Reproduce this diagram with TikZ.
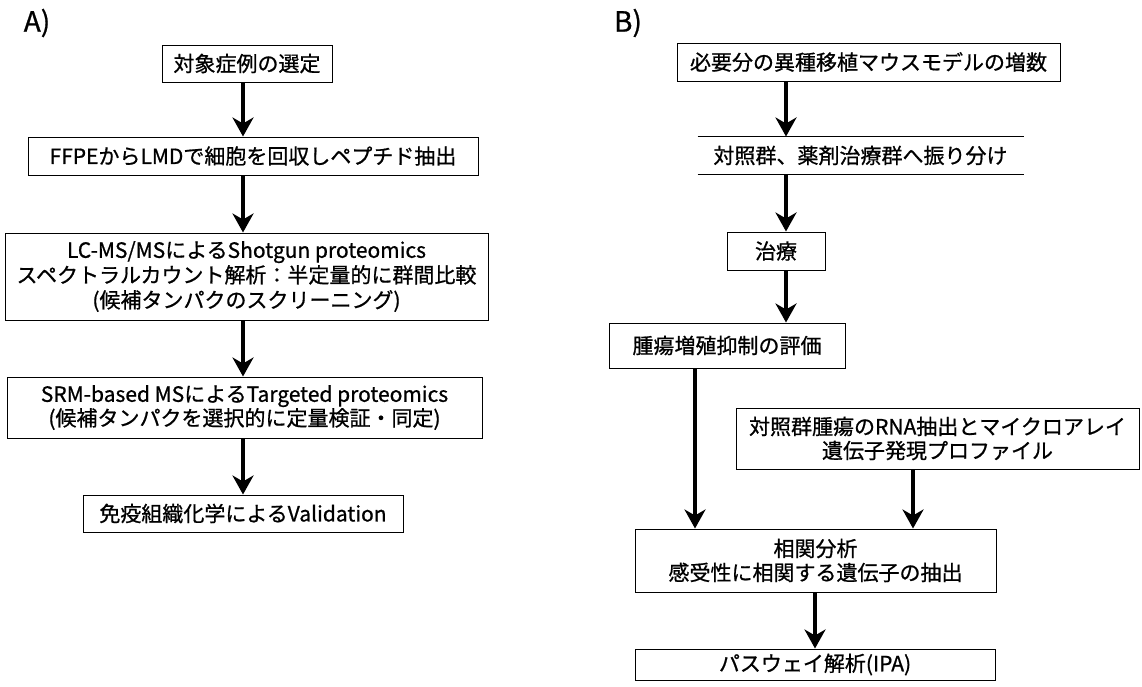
\documentclass[tikz,border=0pt]{standalone}
\usepackage{fontspec}
\setmainfont{Noto Sans CJK JP}[UprightFeatures={FakeBold=0.8}]
\usetikzlibrary{arrows.meta}
\begin{document}
\begin{tikzpicture}[x=1pt,y=-1pt,
		box/.style={draw,line width=1pt,inner sep=0pt,align=center,font=\fontsize{21}{24}\selectfont},
		flow/.style={-{Stealth[length=19pt,width=21pt,inset=6pt]},line width=4.5pt},
		panel/.style={font=\fontsize{28}{30}\selectfont}]
	\useasboundingbox (0,0) rectangle (1142,686);
	\fill[white] (0,0) rectangle (1142,686);
	% A) proteomics
	\node[panel] (pa) at (37,23) {A)};
	\node[box,minimum width=170pt,minimum height=37pt] (a1) at (247,63.5) {対象症例の選定};
	\node[box,minimum width=450pt,minimum height=38pt] (a2) at (253,156) {FFPEからLMDで細胞を回収しペプチド抽出};
	\node[box,minimum width=483pt,minimum height=87pt,font=\fontsize{21}{25}\selectfont] (a3) at (246.5,276.5) {LC-MS/MSによるShotgun proteomics\\スペクトラルカウント解析：半定量的に群間比較\\(候補タンパクのスクリーニング)};
	\node[box,minimum width=475pt,minimum height=61pt] (a4) at (244.5,407.5) {SRM-based MSによるTargeted proteomics\\(候補タンパクを選択的に定量検証・同定)};
	\node[box,minimum width=320pt,minimum height=37pt] (a5) at (243,513.5) {免疫組織化学によるValidation};
	\draw[flow] (a1.south -| a5) -- (a2.north -| a5);
	\draw[flow] (a2.south -| a5) -- (a3.north -| a5);
	\draw[flow] (a3.south -| a5) -- (a4.north -| a5);
	\draw[flow] (a4.south -| a5) -- (a5.north);
	% B) xenograft
	\node[panel] (pb) at (628,23) {B)};
	\coordinate (bcol) at (786,0);
	\coordinate (lcol) at (695,0);
	\coordinate (rcol) at (913,0);
	\node[box,minimum width=383pt,minimum height=38pt] (b1) at (868.5,62) {必要分の異種移植マウスモデルの増数};
	\node[box,draw=none,minimum width=325pt,minimum height=37pt] (b2) at (860.5,155.5) {対照群、薬剤治療群へ振り分け};
	\draw[line width=1pt] (b2.north west) -- (b2.north east) (b2.south west) -- (b2.south east);
	\node[box,minimum width=98pt,minimum height=38pt] (b3) at (776,251) {治療};
	\node[box,minimum width=236pt,minimum height=45pt] (b4) at (727,345.5) {腫瘍増殖抑制の評価};
	\node[box,minimum width=403pt,minimum height=61pt] (b5) at (937.5,438.5) {対照群腫瘍のRNA抽出とマイクロアレイ\\遺伝子発現プロファイル};
	\node[box,minimum width=361pt,minimum height=63pt] (b6) at (815.5,560.5) {相関分析\\感受性に相関する遺伝子の抽出};
	\node[box,minimum width=360pt,minimum height=31pt] (b7) at (815,664.5) {パスウェイ解析(IPA)};
	\draw[flow] (b1.south -| bcol) -- (b2.north -| bcol);
	\draw[flow] (b2.south -| bcol) -- (b3.north -| bcol);
	\draw[flow] (b3.south -| bcol) -- (b4.north -| bcol);
	\draw[flow] (b4.south -| lcol) -- (b6.north -| lcol);
	\draw[flow] (b5.south -| rcol) -- (b6.north -| rcol);
	\draw[flow] (b6.south -| b7) -- (b7.north);
\end{tikzpicture}
\end{document}
